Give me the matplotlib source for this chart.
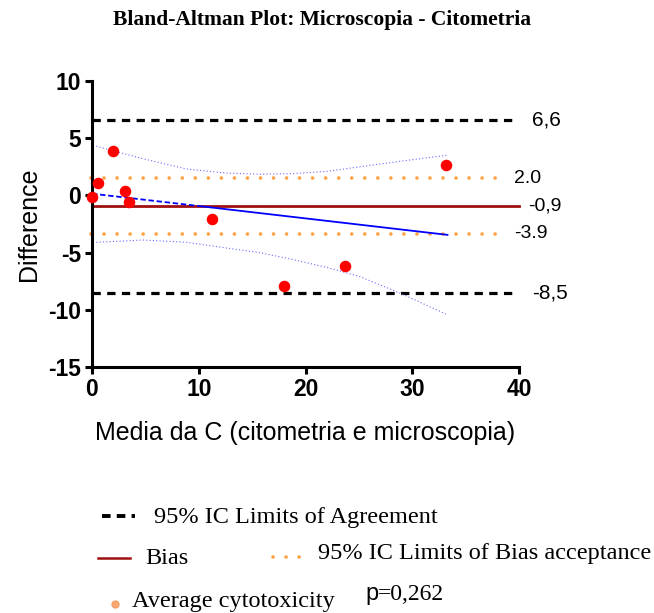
import matplotlib
matplotlib.use("Agg")
import matplotlib.pyplot as plt
from matplotlib.lines import Line2D

plt.rcParams["axes.unicode_minus"] = False

# data
mean_vals = [0.0, 0.6, 2.0, 3.1, 3.5, 11.2, 18.0, 23.7, 33.2]
diff_vals = [-0.1, 1.1, 3.9, 0.4, -0.6, -2.1, -7.95, -6.2, 2.7]

loa_upper = 6.6
loa_lower = -8.5
bias = -0.9
bias_ci_upper = 1.5
bias_ci_lower = -3.35
loa_labels = ["6,6", "-8,5"]
bias_label = "-0,9"
ci_labels = ["2.0", "-3.9"]

# regression of difference on mean (dashed part, then solid part)
reg_x = [0.0, 10.4, 33.3]
reg_y = [0.15, -0.97, -3.45]

# confidence band of the regression
band_x = [0.4, 4.8, 8.9, 12.6, 15.7, 18.8, 22.0, 25.1, 29.0, 33.2]
band_upper = [4.3, 3.2, 2.3, 1.95, 1.85, 1.9, 2.1, 2.5, 3.0, 3.5]
band_lower = [-4.1, -3.9, -4.1, -4.6, -5.0, -5.6, -6.3, -7.1, -8.6, -10.4]

x_ticks = [0, 10, 20, 30, 40]
y_ticks = [-15, -10, -5, 0, 5, 10]
p_value = "=0,262"

ORANGE = "#ffa040"
DARKRED = "#a01010"
SANS = "Liberation Sans"
SERIF = "Liberation Serif"

W, H = 654, 613
fig = plt.figure(figsize=(W / 100, H / 100), dpi=100)
ax = fig.add_axes([92 / W, 1 - 367 / H, 427 / W, 286 / H])

# limits of agreement
for v, lab in zip([loa_upper, loa_lower], loa_labels):
    ax.plot([0, 39.3], [v, v], color="black", lw=2.3,
            linestyle=(0, (2.6, 2.0)), clip_on=False)
    ax.text(41.2, v, lab, fontsize=15, family=SANS, va="center", ha="left")

# bias
ax.plot([0, 40], [bias, bias], color=DARKRED, lw=2.0, clip_on=False)
ax.text(40.9, bias, bias_label, fontsize=14, family=SANS, va="center", ha="left")

# bias acceptance limits
for v, lab in zip([bias_ci_upper, bias_ci_lower], ci_labels):
    ax.plot([-0.1, 38.2], [v, v], color=ORANGE, lw=2.6,
            linestyle=(0, (0.01, 3.6)), dash_capstyle="round", clip_on=False)
    ax.text(39.5, v, lab, fontsize=14, family=SANS, va="center", ha="left")

# regression line and its band
ax.plot(reg_x[:2], reg_y[:2], color="blue", lw=1.3, linestyle=(0, (3, 1.5)))
ax.plot(reg_x[1:], reg_y[1:], color="blue", lw=1.3)
ax.plot(band_x, band_upper, color="#6a6aff", lw=0.8, linestyle=(0, (1, 2)))
ax.plot(band_x, band_lower, color="#6a6aff", lw=0.8, linestyle=(0, (1, 2)))

# points
ax.plot(mean_vals, diff_vals, "o", color="red", ms=7.3, mec="red",
        clip_on=False, zorder=5)

ax.set_xlim(0, 40)
ax.set_ylim(-15, 10)
ax.set_xticks(x_ticks)
ax.set_yticks(y_ticks)
for s in ["top", "right"]:
    ax.spines[s].set_visible(False)
for s in ["left", "bottom"]:
    ax.spines[s].set_linewidth(2.2)
ax.tick_params(width=2.2, length=5, direction="out", pad=3)
for t in ax.get_xticklabels() + ax.get_yticklabels():
    t.set_fontfamily(SANS)
    t.set_fontweight("bold")
    t.set_fontsize(16.5)

ax.set_xlabel("Media da C (citometria e microscopia)", fontsize=18,
              family=SANS, labelpad=14)
ax.set_ylabel("Difference", fontsize=18, family=SANS, labelpad=5)

fig.text(322 / W, 1 - 20 / H, "Bland-Altman Plot: Microscopia - Citometria",
         fontsize=15.5, family=SERIF, weight="bold", ha="center", va="center")

# hand-made legend
def fy(py):
    return 1 - py / H

def fx(px):
    return px / W

fig.add_artist(Line2D([fx(102), fx(135)], [fy(516), fy(516)], color="black",
                      lw=2.8, linestyle=(0, (2.2, 1.6))))
fig.text(fx(154), fy(517), "95% IC Limits of Agreement", fontsize=17.5,
         family=SERIF, va="center")

fig.add_artist(Line2D([fx(98), fx(130)], [fy(558), fy(558)], color=DARKRED,
                      lw=1.8))
fig.text(fx(145), fy(558), "Bias", fontsize=17.5, family=SERIF, va="center")

fig.add_artist(Line2D([fx(273), fx(310)], [fy(557), fy(557)], color=ORANGE,
                      lw=2.6, linestyle=(0, (0.01, 3.6)), dash_capstyle="round"))
fig.text(fx(318), fy(554), "95% IC Limits of Bias acceptance", fontsize=17.5,
         family=SERIF, va="center")

fig.add_artist(Line2D([fx(115)], [fy(604)], marker="o", color="#f59a5a",
                      ms=5, lw=0, alpha=0.85))
fig.text(fx(132), fy(601), "Average cytotoxicity", fontsize=17.5,
         family=SERIF, va="center")
fig.text(fx(365), fy(594), "p", fontsize=17, family=SANS, va="center")
fig.text(fx(378), fy(594), p_value, fontsize=17, family=SERIF, va="center")

fig.savefig("out.png", dpi=100)
